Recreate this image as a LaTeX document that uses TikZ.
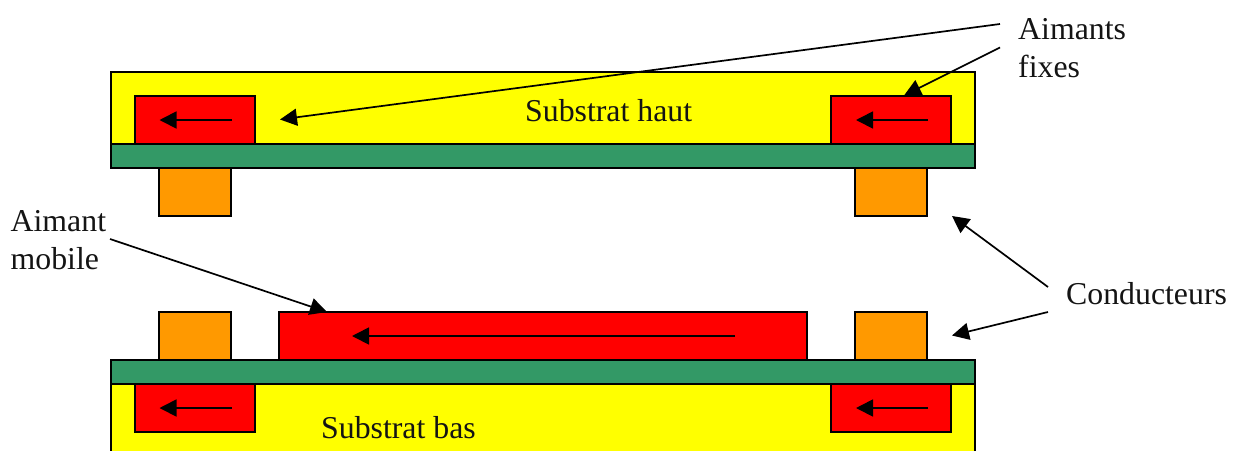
\documentclass[tikz,border=0pt]{standalone}
\usepackage{fontspec}
\setmainfont{Liberation Serif}
\usetikzlibrary{arrows.meta}
\definecolor{subgreen}{HTML}{339966}
\definecolor{condorange}{HTML}{FF9900}
\definecolor{subyellow}{RGB}{255,255,0}
\definecolor{aimred}{RGB}{255,0,0}
\tikzset{
  part/.style={draw=black,line width=2pt,inner sep=0pt,outer sep=0pt,anchor=north west,minimum width=#1},
  substrat/.style={part=864pt,fill=subyellow,minimum height=72pt},
  couche/.style={part=864pt,fill=subgreen,minimum height=24pt},
  aimantfixe/.style={part=120pt,fill=aimred,minimum height=48pt},
  aimantmob/.style={part=528pt,fill=aimred,minimum height=48pt},
  conducteur/.style={part=72pt,fill=condorange,minimum height=48pt},
  fleche/.style={draw=black,line width=1.7pt,-{Triangle[length=17pt,width=17pt]}},
  texte/.style={inner sep=0pt,anchor=base west,font=\fontsize{31.8pt}{36pt}\selectfont,text=black!92}
}
\begin{document}
\begin{tikzpicture}[x=1pt,y=-1pt]
\useasboundingbox (0,0) rectangle (1237,451);
% top assembly
\node[substrat] (subhaut) at (111,72) {};
\node[aimantfixe] (fixeHG) at (135,96) {};
\node[aimantfixe] (fixeHD) at (831,96) {};
\node[couche] (coucheH) at (111,144) {};
\node[conducteur] (condHG) at (159,168) {};
\node[conducteur] (condHD) at (855,168) {};
% bottom assembly
\fill[subyellow] (111,384) rectangle (975,451);
\draw[line width=2pt] (111,384) -- (111,451) (975,384) -- (975,451);
\node[aimantfixe] (fixeBG) at (135,384) {};
\node[aimantfixe] (fixeBD) at (831,384) {};
\node[couche] (coucheB) at (111,360) {};
\node[conducteur] (condBG) at (159,312) {};
\node[conducteur] (condBD) at (855,312) {};
\node[aimantmob] (mobile) at (279,312) {};
% labels
\node[texte] (lfixes) at (1018,39) {Aimants};
\node[texte] (lfixesb) at (1018,77) {fixes};
\node[texte] (lmob) at (10.5,231) {Aimant};
\node[texte] (lmobb) at (10.5,269) {mobile};
\node[texte] (lcond) at (1066,304) {Conducteurs};
\node[texte] (lhaut) at (525,121) {Substrat haut};
\node[texte] (lbas) at (321,438) {Substrat bas};
% magnetisation arrows
\coordinate (qHG) at (232,120);
\coordinate (pHG) at (159.5,120);
\coordinate (qHD) at (928,120);
\coordinate (pHD) at (856,120);
\coordinate (qM) at (735,336);
\coordinate (pM) at (352,336);
\coordinate (qBG) at (232,408);
\coordinate (pBG) at (159.5,408);
\coordinate (qBD) at (928,408);
\coordinate (pBD) at (856,408);
\draw[fleche] (qHG) -- (pHG);
\draw[fleche] (qHD) -- (pHD);
\draw[fleche] (qM) -- (pM);
\draw[fleche] (qBG) -- (pBG);
\draw[fleche] (qBD) -- (pBD);
% callouts
\coordinate (cfA) at (1000,24);
\coordinate (cfB) at (1000,47.5);
\coordinate (cmA) at (110,239);
\coordinate (ccA) at (1048,287);
\coordinate (ccB) at (1048,312);
\coordinate (tfA) at (280,119.5);
\coordinate (tfB) at (904,95.5);
\coordinate (tmA) at (327,312);
\coordinate (tcA) at (952,216);
\coordinate (tcB) at (952,335.5);
\draw[fleche] (cfA) -- (tfA);
\draw[fleche] (cfB) -- (tfB);
\draw[fleche] (cmA) -- (tmA);
\draw[fleche] (ccA) -- (tcA);
\draw[fleche] (ccB) -- (tcB);
\end{tikzpicture}
\end{document}
